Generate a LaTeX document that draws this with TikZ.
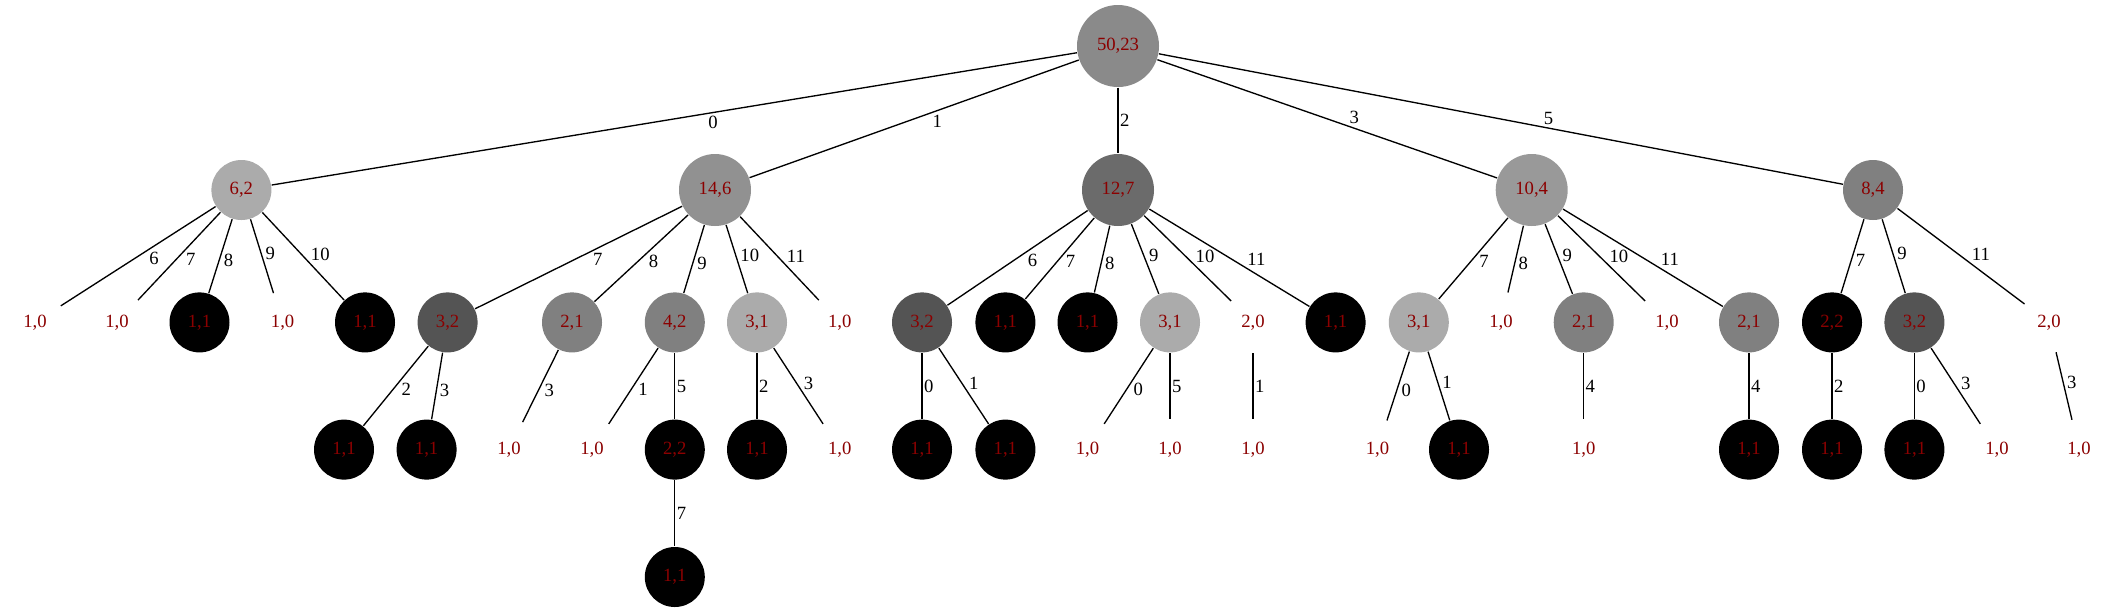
\documentclass[tikz,border=0pt]{standalone}
\usepackage{fontspec}
\setmainfont{Liberation Serif}
\definecolor{lblred}{HTML}{8B0000}

\begin{document}
\begin{tikzpicture}[x=0.75pt,y=-0.75pt,line width=1pt,
    tnode/.style={circle,inner sep=0pt,minimum size=45pt,
      font=\fontsize{14}{16}\selectfont,text=lblred},
    big node/.style={tnode,minimum size=54pt},
    tone/.style={fill=black!#1},
    one/.style={tnode,fill=black},
    zero/.style={tnode,fill=white},
    lr/.style={pos=0.57,anchor=south west,inner sep=1pt,font=\fontsize{14}{16}\selectfont},
    ll/.style={pos=0.44,anchor=north west,inner sep=1pt,font=\fontsize{14}{16}\selectfont},
    lv/.style={midway,anchor=west,inner sep=1pt,font=\fontsize{14}{16}\selectfont}]

  \useasboundingbox (0,0) rectangle (2115,612);

  % root and first level
  \node[tnode,minimum size=61.5pt,tone=46] (r) at (1118,46) {50,23};
  \node[tnode,tone=33] (a) at (241.4,190) {6,2};
  \node[big node,tone=43] (b) at (715,190) {14,6};
  \node[big node,tone=58] (c) at (1118,190) {12,7};
  \node[big node,tone=40] (d) at (1531.7,190) {10,4};
  \node[tnode,tone=50] (e) at (1873,190) {8,4};

  % second level
  \node[zero] (a1) at (35,322.4) {1,0};
  \node[zero] (a2) at (117,322.4) {1,0};
  \node[one] (a3) at (199.5,322.4) {1,1};
  \node[zero] (a4) at (282.6,322.4) {1,0};
  \node[one] (a5) at (365,322.4) {1,1};
  \node[tnode,tone=67] (b1) at (447.6,322.4) {3,2};
  \node[tnode,tone=50] (b2) at (572,322.4) {2,1};
  \node[tnode,tone=50] (b3) at (674.8,322.4) {4,2};
  \node[tnode,tone=33] (b4) at (757,322.4) {3,1};
  \node[zero] (b5) at (839.8,322.4) {1,0};
  \node[tnode,tone=67] (c1) at (922,322.4) {3,2};
  \node[one] (c2) at (1005.4,322.4) {1,1};
  \node[one] (c3) at (1087.5,322.4) {1,1};
  \node[tnode,tone=33] (c4) at (1170,322.4) {3,1};
  \node[zero] (c5) at (1253,322.4) {2,0};
  \node[one] (c6) at (1335.6,322.4) {1,1};
  \node[tnode,tone=33] (d1) at (1418.8,322.4) {3,1};
  \node[zero] (d2) at (1501,322.4) {1,0};
  \node[tnode,tone=50] (d3) at (1583.7,322.4) {2,1};
  \node[zero] (d4) at (1667,322.4) {1,0};
  \node[tnode,tone=50] (d5) at (1749,322.4) {2,1};
  \node[one] (e1) at (1832,322.4) {2,2};
  \node[tnode,tone=67] (e2) at (1914.4,322.4) {3,2};
  \node[zero] (e3) at (2049,322.4) {2,0};

  % third and fourth level
  \node[one] (b1a) at (344,449.6) {1,1};
  \node[one] (b1b) at (426.6,449.6) {1,1};
  \node[zero] (b2a) at (509,449.6) {1,0};
  \node[zero] (b3a) at (592,449.6) {1,0};
  \node[one] (b3b) at (674.8,449.6) {2,2};
  \node[one] (b4a) at (757,449.6) {1,1};
  \node[zero] (b4b) at (839.8,449.6) {1,0};
  \node[one] (c1a) at (922,449.6) {1,1};
  \node[one] (c1b) at (1005.4,449.6) {1,1};
  \node[zero] (c4a) at (1087.5,449.6) {1,0};
  \node[zero] (c4b) at (1170,449.6) {1,0};
  \node[zero] (c5a) at (1253,449.6) {1,0};
  \node[zero] (d1a) at (1377.5,449.6) {1,0};
  \node[one] (d1b) at (1459,449.6) {1,1};
  \node[zero] (d3a) at (1583.7,449.6) {1,0};
  \node[one] (d5a) at (1749,449.6) {1,1};
  \node[one] (e1a) at (1832,449.6) {1,1};
  \node[one] (e2a) at (1914.4,449.6) {1,1};
  \node[zero] (e2b) at (1997,449.6) {1,0};
  \node[zero] (e3a) at (2079,449.6) {1,0};
  \node[one] (b3ba) at (674.8,577) {1,1};

  \path
  (r) edge node[ll,pos=0.46] {0} (a)
  (r) edge node[ll,pos=0.45] {1} (b)
  (r) edge node[lv] {2} (c)
  (r) edge node[lr,pos=0.56] {3} (d)
  (r) edge node[lr,pos=0.56] {5} (e)
  (a) edge node[ll] {6} (a1)
  (a) edge node[ll] {7} (a2)
  (a) edge node[ll] {8} (a3)
  (a) edge node[lr] {9} (a4)
  (a) edge node[lr] {10} (a5)
  (b) edge node[ll] {7} (b1)
  (b) edge node[ll] {8} (b2)
  (b) edge node[ll] {9} (b3)
  (b) edge node[lr] {10} (b4)
  (b) edge node[lr] {11} (b5)
  (c) edge node[ll] {6} (c1)
  (c) edge node[ll] {7} (c2)
  (c) edge node[ll] {8} (c3)
  (c) edge node[lr] {9} (c4)
  (c) edge node[lr] {10} (c5)
  (c) edge node[lr,pos=0.6] {11} (c6)
  (d) edge node[ll] {7} (d1)
  (d) edge node[ll] {8} (d2)
  (d) edge node[lr] {9} (d3)
  (d) edge node[lr] {10} (d4)
  (d) edge node[lr,pos=0.6] {11} (d5)
  (e) edge node[ll] {7} (e1)
  (e) edge node[lr] {9} (e2)
  (e) edge node[lr] {11} (e3)
  (b1) edge node[ll] {2} (b1a)
  (b1) edge node[ll] {3} (b1b)
  (b2) edge node[ll] {3} (b2a)
  (b3) edge node[ll] {1} (b3a)
  (b3) edge node[lv] {5} (b3b)
  (b4) edge node[lv] {2} (b4a)
  (b4) edge node[lr] {3} (b4b)
  (c1) edge node[lv] {0} (c1a)
  (c1) edge node[lr] {1} (c1b)
  (c4) edge node[ll] {0} (c4a)
  (c4) edge node[lv] {5} (c4b)
  (c5) edge node[lv] {1} (c5a)
  (d1) edge node[ll] {0} (d1a)
  (d1) edge node[lr] {1} (d1b)
  (d3) edge node[lv] {4} (d3a)
  (d5) edge node[lv] {4} (d5a)
  (e1) edge node[lv] {2} (e1a)
  (e2) edge node[lv] {0} (e2a)
  (e2) edge node[lr] {3} (e2b)
  (e3) edge node[lr] {3} (e3a)
  (b3b) edge node[lv] {7} (b3ba);
\end{tikzpicture}
\end{document}
